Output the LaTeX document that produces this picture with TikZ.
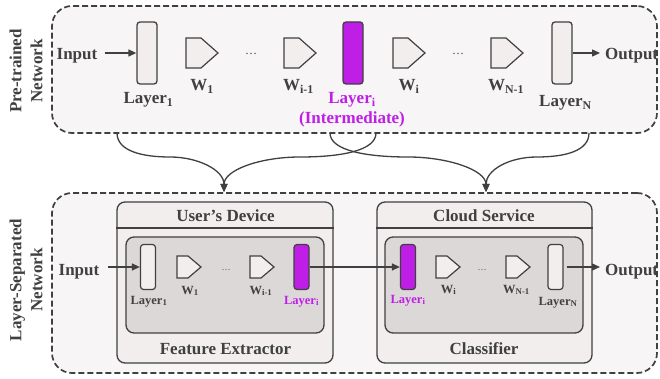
\documentclass[tikz,border=0pt]{standalone}
\usepackage{fontspec}
\setmainfont{Liberation Serif}
\usetikzlibrary{arrows.meta}
\definecolor{ink}{HTML}{404040}
\definecolor{bgpale}{HTML}{F8F5F6}
\definecolor{boxfill}{HTML}{F2EEEE}
\definecolor{innerfill}{HTML}{DDD8D8}
\definecolor{vio}{HTML}{BE1EE6}
\tikzset{
  big/.style={font=\bfseries\fontsize{17}{21}\selectfont, text=ink, inner sep=0pt, anchor=base},
  small/.style={font=\bfseries\fontsize{12.5}{15}\selectfont, text=ink, inner sep=0pt, anchor=base},
  dotsA/.style={font=\fontsize{12}{14}\selectfont, text=ink, inner sep=0pt, anchor=base},
  dotsB/.style={font=\fontsize{9}{11}\selectfont, text=ink, inner sep=0pt, anchor=base},
  outerbox/.style={draw=ink, fill=bgpale, line width=1.7pt, dash pattern=on 6pt off 3pt, rounded corners=20pt, inner sep=0pt},
  sidebox/.style={draw=ink, fill=boxfill, line width=1.3pt, rounded corners=8pt, inner sep=0pt},
  innerbox/.style={draw=ink, fill=innerfill, line width=1.3pt, rounded corners=8pt, inner sep=0pt},
  layerT/.style={draw=ink, fill=boxfill, line width=1.3pt, rounded corners=3pt, minimum width=20pt, minimum height=62pt, inner sep=0pt},
  layerS/.style={draw=ink, fill=boxfill, line width=1.2pt, rounded corners=3pt, minimum width=15pt, minimum height=45pt, inner sep=0pt},
  pentst/.style={draw=ink, fill=boxfill, line width=1.2pt, line join=miter},
  arr/.style={draw=ink, line width=1.3pt, -{Triangle[length=8pt,width=7pt]}},
  conn/.style={draw=ink, line width=1.3pt, -{Triangle[length=8pt,width=7pt]}},
  pics/bigpent/.style={code={\draw[pentst] (0,-15) -- (15,-15) -- (32,0) -- (15,15) -- (0,15) -- cycle;}},
  pics/smallpent/.style={code={\draw[pentst] (0,-11) -- (11,-11) -- (24,0) -- (11,11) -- (0,11) -- cycle;}},
}
\begin{document}
\begin{tikzpicture}[x=1pt,y=-1pt]
\useasboundingbox[fill=white] (0,0) rectangle (660,379);

% ---------- outer dashed boxes ----------
\node[outerbox, minimum width=605pt, minimum height=127pt] (pre) at (354.5,69.5) {};
\node[outerbox, minimum width=605pt, minimum height=180pt] (sep) at (354.5,283) {};

\node[big, anchor=center, rotate=90, align=center] (lab1) at (26,71) {Pre-trained\\Network};
\node[big, anchor=center, rotate=90, align=center] (lab2) at (26,280) {Layer-Separated\\Network};

% ---------- top row ----------
\node[big] (in1) at (77,60) {Input};
\node[layerT] (l1) at (147,53) {};
\node[big] (l1t) at (148.5,104) {Layer\textsubscript{1}};
\pic at (186,53) {bigpent};
\node[big] (w1t) at (202,91) {W\textsubscript{1}};
\node[dotsA] (d1) at (251,55) {\ldots};
\pic at (284,53) {bigpent};
\node[big] (wim1t) at (298.5,91) {W\textsubscript{i-1}};
\node[layerT, fill=vio] (li) at (353,53) {};
\node[big, text=vio] (lit) at (352,104) {Layer\textsubscript{i}};
\node[big, text=vio] (intt) at (352,124) {(Intermediate)};
\pic at (393,53) {bigpent};
\node[big] (wit) at (409,91) {W\textsubscript{i}};
\node[dotsA] (d2) at (458,55) {\ldots};
\pic at (491,53) {bigpent};
\node[big] (wn1t) at (506,91) {W\textsubscript{N-1}};
\node[layerT] (ln) at (562,53) {};
\node[big] (lnt) at (565.5,107) {Layer\textsubscript{N}};
\node[big, anchor=base west] (out1) at (605,60) {Output};

\draw[arr] (in1.east |- l1.west) [shorten <=7pt] -- (l1.west);
\draw[arr] (ln.east) -- (out1.west |- ln.east) [shorten >=5pt];

% ---------- curved connectors ----------
\coordinate (s1) at (117,133);
\coordinate (s2) at (376,133);
\coordinate (s3) at (330,133);
\coordinate (s4) at (589,133);
\coordinate (m1) at (170,157);
\coordinate (m2) at (300,157);
\coordinate (m3) at (408,157);
\coordinate (m4) at (537,157);
\coordinate (t1) at (224,192);
\coordinate (t2) at (486,192);
\draw[conn] (s1) .. controls +(0,18) and +(-28,0) .. (m1) .. controls +(28,0) and +(0,-22) .. (t1);
\draw[conn] (s2) .. controls +(0,18) and +(40,0) .. (m2) .. controls +(-40,0) and +(0,-22) .. (t1);
\draw[conn] (s3) .. controls +(0,18) and +(-40,0) .. (m3) .. controls +(40,0) and +(0,-22) .. (t2);
\draw[conn] (s4) .. controls +(0,18) and +(28,0) .. (m4) .. controls +(-28,0) and +(0,-22) .. (t2);

% ---------- user's device ----------
\node[sidebox, minimum width=216pt, minimum height=161pt] (dev) at (225,282.5) {};
\draw[ink, line width=1.3pt] (dev.west |- 0,228) -- (dev.east |- 0,228);
\node[innerbox, minimum width=198pt, minimum height=96pt] (fe) at (225,285) {};
\node[big] (devt) at (225.5,221) {User’s Device};
\node[big] (fet) at (225.5,354) {Feature Extractor};

% ---------- cloud service ----------
\node[sidebox, minimum width=215pt, minimum height=161pt] (cld) at (484.5,282.5) {};
\draw[ink, line width=1.3pt] (cld.west |- 0,228) -- (cld.east |- 0,228);
\node[innerbox, minimum width=198pt, minimum height=96pt] (cls) at (484,285) {};
\node[big] (cldt) at (484,221) {Cloud Service};
\node[big] (clst) at (484,354) {Classifier};

% ---------- bottom row ----------
\node[big] (in2) at (79,275) {Input};
\node[layerS] (b1) at (148,267) {};
\node[small] (b1t) at (149,304) {Layer\textsubscript{1}};
\pic at (177,267) {smallpent};
\node[small] (bw1t) at (190,294) {W\textsubscript{1}};
\node[dotsB] (d3) at (226,270) {\ldots};
\pic at (250,267) {smallpent};
\node[small] (bwim1t) at (261,294) {W\textsubscript{i-1}};
\node[layerS, fill=vio] (bli) at (301.5,267) {};
\node[small, text=vio] (blit) at (301.5,304) {Layer\textsubscript{i}};

\node[layerS, fill=vio] (cli) at (408,267) {};
\node[small, text=vio] (clit) at (408,303) {Layer\textsubscript{i}};
\pic at (436,267) {smallpent};
\node[small] (cwit) at (448.5,293) {W\textsubscript{i}};
\node[dotsB] (d4) at (482,270) {\ldots};
\pic at (506,267) {smallpent};
\node[small] (cwn1t) at (516.5,293) {W\textsubscript{N-1}};
\node[layerS] (cln) at (555.5,267) {};
\node[small] (clnt) at (558,305) {Layer\textsubscript{N}};
\node[big, anchor=base west] (out2) at (605,275) {Output};

\draw[arr] (in2.east |- b1.west) [shorten <=8pt] -- (b1.west);
\draw[arr] (bli.east) -- (cli.west);
\draw[arr] (cln.east) [shorten <=3pt] -- (out2.west |- cln.east) [shorten >=5pt];
\end{tikzpicture}
\end{document}
